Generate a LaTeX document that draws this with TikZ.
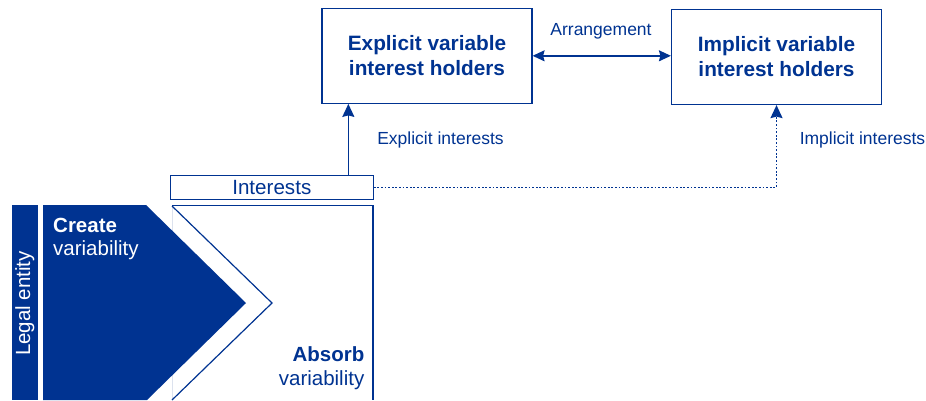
\documentclass[tikz,border=0pt]{standalone}
\usepackage{fontspec}
\setmainfont{Liberation Sans}
\usetikzlibrary{arrows.meta}
\definecolor{ecbblue}{HTML}{003391}
\definecolor{faint}{HTML}{DCE2EE}
\tikzset{
  holder/.style={draw=ecbblue, line width=1.2pt, minimum width=210pt, minimum height=95pt, inner sep=0pt, align=center, text=ecbblue, font=\fontsize{20.8}{25}\selectfont\bfseries},
  intbox/.style={draw=ecbblue, line width=1.1pt, minimum width=203pt, minimum height=24pt, inner sep=0pt, text=ecbblue, font=\fontsize{20.6}{22}\selectfont},
  lbl/.style={text=ecbblue, font=\fontsize{17.5}{20}\selectfont, inner sep=0pt},
  arr/.style={draw=ecbblue, line width=1.4pt, -{Stealth[length=13pt,width=12pt,inset=1.5pt]}},
  dblarr/.style={draw=ecbblue, line width=1.4pt, {Stealth[length=12pt,width=11pt,inset=1.5pt]}-{Stealth[length=12pt,width=11pt,inset=1.5pt]}},
  dotarr/.style={draw=ecbblue, line width=1.6pt, dash pattern=on 1.8pt off 1.8pt, -{Stealth[length=13pt,width=12pt,inset=1.5pt]}},
  bigtxt/.style={inner sep=0pt, font=\fontsize{20.5}{23}\selectfont},
  chev/.style={draw=ecbblue, line width=1.2pt},
}
\begin{document}
\begin{tikzpicture}[x=1pt,y=-1pt]
\useasboundingbox (0,0) rectangle (926,400);
% boxes
\node[holder] (ex) at (427,55.8) {Explicit variable\\interest holders};
\node[holder] (im) at (776.5,57) {Implicit variable\\interest holders};
\node[intbox] (int) at (271.8,187.5) {Interests};
% absorb box (faint left edge behind)
\draw[faint, line width=0.8pt] (172,206) -- (172,400);
% legal entity bar
\fill[ecbblue] (12,205) rectangle (37.5,400);
\node[bigtxt, text=white, rotate=90] (legal) at (24.8,303.5) {Legal entity};
% create arrow
\fill[ecbblue] (43,205) -- (146,205) -- (246,303) -- (147,400) -- (43,400) -- cycle;
\node[bigtxt, text=white, anchor=base west, font=\fontsize{20.5}{23}\selectfont\bfseries] (create) at (53,232) {Create};
\node[bigtxt, text=white, anchor=base west] (createv) at (53,255) {variability};
\draw[chev] (172,205.5) -- (373,205.5) -- (373,400);
\draw[chev] (172,206) -- (272,303) -- (172,400);
\node[bigtxt, text=ecbblue, anchor=base east, font=\fontsize{20.5}{23}\selectfont\bfseries] (absorb) at (364.5,361.5) {Absorb};
\node[bigtxt, text=ecbblue, anchor=base east] (absorbv) at (364.5,385) {variability};
% connectors
\draw[dblarr] (ex.east) -- (ex.east -| im.west);
\node[lbl] (arrl) at (601,31) {Arrangement};
\draw[arr] ([xshift=-25.5pt]int.north east) -- ([xshift=-25.5pt]int.north east |- ex.south);
\node[lbl] (exl) at (440.5,140) {Explicit interests};
\draw[dotarr] (int.east) -| (im.south);
\node[lbl] (iml) at (862.5,140) {Implicit interests};
\end{tikzpicture}
\end{document}
